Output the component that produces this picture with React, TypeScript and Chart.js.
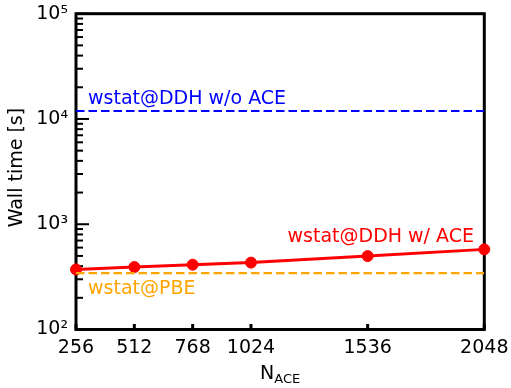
import React, { useEffect, useRef } from "react";
import { Chart, registerables } from "chart.js";

Chart.register(...registerables);

// ---- data ----
const nAce = [256, 512, 768, 1024, 1536, 2048];
const wallTimeAce = [372, 392, 413, 432, 498, 577];
const wallTimeNoAce = [11900, 11900];
const wallTimePbe = [343, 343];
const refRangeX = [256, 2048];
const xTickValues = [256, 512, 768, 1024, 1536, 2048];
const yDecades = [2, 3, 4, 5];
const annotationLabels = ["wstat@DDH w/o ACE", "wstat@DDH w/ ACE", "wstat@PBE"];

const FONT = "'DejaVu Sans', 'Liberation Sans', sans-serif";
const SUP: Record<string, string> = { "0": "⁰", "1": "¹", "2": "²", "3": "³", "4": "⁴", "5": "⁵", "6": "⁶", "7": "⁷", "8": "⁸", "9": "⁹" };

const framePlugin = {
  id: "framePlugin",
  beforeDatasetsDraw(chart: any) {
    const { ctx, chartArea } = chart;
    const xs = chart.scales.x;
    const ys = chart.scales.y;
    ctx.save();
    ctx.strokeStyle = "#000";
    // y ticks (inward)
    for (let i = 0; i < yDecades.length; i++) {
      const d = yDecades[i];
      const py = ys.getPixelForValue(Math.pow(10, d));
      ctx.lineWidth = 2;
      ctx.beginPath();
      ctx.moveTo(chartArea.left, py);
      ctx.lineTo(chartArea.left + 13, py);
      ctx.stroke();
      if (i < yDecades.length - 1) {
        for (let m = 2; m <= 9; m++) {
          const pm = ys.getPixelForValue(m * Math.pow(10, d));
          ctx.lineWidth = 2;
          ctx.beginPath();
          ctx.moveTo(chartArea.left, pm);
          ctx.lineTo(chartArea.left + 7, pm);
          ctx.stroke();
        }
      }
    }
    // x ticks (inward)
    for (const v of xTickValues) {
      const px = xs.getPixelForValue(v);
      ctx.lineWidth = 3;
      ctx.beginPath();
      ctx.moveTo(px, chartArea.bottom);
      ctx.lineTo(px, chartArea.bottom - 5.5);
      ctx.stroke();
    }
    // frame
    ctx.lineWidth = 3;
    ctx.strokeRect(chartArea.left, chartArea.top, chartArea.right - chartArea.left, chartArea.bottom - chartArea.top);
    ctx.restore();
  },
  afterDraw(chart: any) {
    const { ctx, chartArea } = chart;
    ctx.save();
    ctx.textBaseline = "alphabetic";
    ctx.font = `19px ${FONT}`;
    ctx.textAlign = "left";
    ctx.fillStyle = "#0000ff";
    ctx.fillText(annotationLabels[0], 88, 104);
    ctx.fillStyle = "#ff0000";
    ctx.textAlign = "right";
    ctx.fillText(annotationLabels[1], 474, 241.5);
    ctx.fillStyle = "#ffa500";
    ctx.textAlign = "left";
    ctx.fillText(annotationLabels[2], 88, 294);

    // x title N_ACE
    ctx.fillStyle = "#000";
    ctx.font = `19px ${FONT}`;
    const wN = ctx.measureText("N").width;
    ctx.font = `13px ${FONT}`;
    const wSub = ctx.measureText("ACE").width;
    const cx = (chartArea.left + chartArea.right) / 2;
    const start = cx - (wN + wSub) / 2;
    ctx.textAlign = "left";
    ctx.font = `19px ${FONT}`;
    ctx.fillText("N", start, 379);
    ctx.font = `13px ${FONT}`;
    ctx.fillText("ACE", start + wN, 382.5);

    // y title
    ctx.translate(17.5, (chartArea.top + chartArea.bottom) / 2 - 4);
    ctx.rotate(-Math.PI / 2);
    ctx.textAlign = "center";
    ctx.textBaseline = "middle";
    ctx.font = `19px ${FONT}`;
    ctx.fillText("Wall time [s]", 0, 0);
    ctx.restore();
  },
};

export default function App() {
  const canvasRef = useRef<HTMLCanvasElement | null>(null);

  useEffect(() => {
    document.body.style.margin = "0";
    const canvas = canvasRef.current;
    if (!canvas) return;
    const chart = new Chart(canvas, {
      type: "line",
      data: {
        datasets: [
          {
            label: "wstat@DDH w/o ACE",
            data: refRangeX.map((x, i) => ({ x, y: wallTimeNoAce[i] })),
            borderColor: "#0000ff",
            borderWidth: 2.2,
            borderDash: [8.5, 4],
            pointRadius: 0,
            fill: false,
          },
          {
            label: "wstat@PBE",
            data: refRangeX.map((x, i) => ({ x, y: wallTimePbe[i] })),
            borderColor: "#ffa500",
            borderWidth: 2.2,
            borderDash: [8.5, 4],
            pointRadius: 0,
            fill: false,
          },
          {
            label: "wstat@DDH w/ ACE",
            data: nAce.map((x, i) => ({ x, y: wallTimeAce[i] })),
            borderColor: "#ff0000",
            backgroundColor: "#ff0000",
            borderWidth: 3,
            pointRadius: 5.5,
            pointBackgroundColor: "#ff0000",
            pointBorderColor: "#ff0000",
            pointBorderWidth: 1,
            fill: false,
            clip: false,
          } as any,
        ],
      },
      options: {
        responsive: false,
        animation: false,
        devicePixelRatio: 1,
        layout: { padding: { left: 0, right: 26.7, top: 13.7, bottom: 0 } },
        plugins: { legend: { display: false }, tooltip: { enabled: false } },
        scales: {
          x: {
            type: "linear",
            min: 256,
            max: 2048,
            grid: { display: false, drawTicks: false },
            border: { display: false },
            afterBuildTicks: (scale: any) => {
              scale.ticks = xTickValues.map((v) => ({ value: v }));
            },
            afterFit: (scale: any) => {
              scale.height = 388 - 329.5;
              scale.paddingLeft = 0;
              scale.paddingRight = 0;
            },
            ticks: {
              autoSkip: false,
              maxRotation: 0,
              color: "#000",
              padding: 7,
              font: { family: FONT, size: 19 },
              callback: (v: any) => String(v),
            },
          },
          y: {
            type: "logarithmic",
            min: 100,
            max: 100000,
            grid: { display: false, drawTicks: false },
            border: { display: false },
            afterFit: (scale: any) => {
              scale.width = 76;
              scale.paddingTop = 0;
              scale.paddingBottom = 0;
            },
            ticks: {
              autoSkip: false,
              color: "#000",
              padding: 8,
              font: { family: FONT, size: 19 },
              callback: (v: any) => {
                const l = Math.log10(Number(v));
                const r = Math.round(l);
                if (Math.abs(l - r) < 1e-6) {
                  return "10" + String(r).split("").map((c) => SUP[c]).join("");
                }
                return "";
              },
            },
          },
        },
      },
      plugins: [framePlugin],
    });
    return () => chart.destroy();
  }, []);

  return (
    <div style={{ width: 511, height: 388 }}>
      <canvas ref={canvasRef} width={511} height={388} style={{ display: "block" }} />
    </div>
  );
}
